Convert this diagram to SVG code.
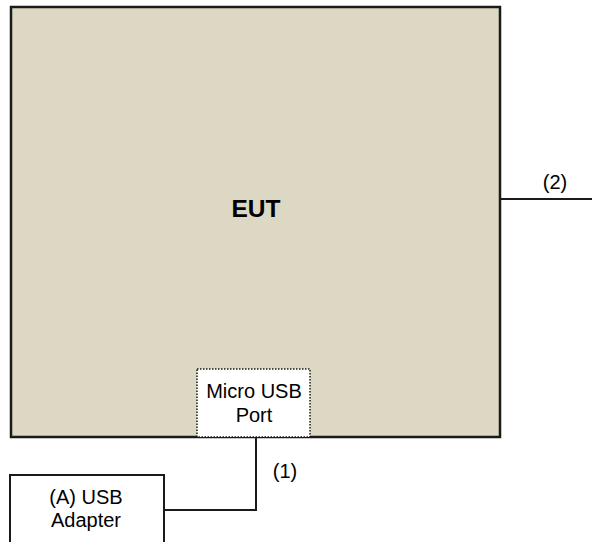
<svg xmlns="http://www.w3.org/2000/svg" width="592" height="542" viewBox="0 0 592 542">
<style>
text{font-family:"Liberation Sans",Arial,sans-serif;fill:#000}
.lbl{font-size:20px}
.ln{stroke:#1a1a1a;stroke-width:2;fill:none}
</style>
<rect width="592" height="542" fill="#fff"/>
<g id="eut">
<rect x="11" y="7" width="489" height="430" fill="#ddd8c3" stroke="#1a1a1a" stroke-width="2.5"/>
<text x="256" y="216.5" text-anchor="middle" font-size="24.5" font-weight="bold">EUT</text>
</g>
<g id="port">
<rect x="197" y="369" width="113" height="68" fill="#fff" stroke="#1a1a1a" stroke-width="1.5" stroke-dasharray="1.5,1.5"/>
<text class="lbl" x="254" y="398" text-anchor="middle">Micro USB</text>
<text class="lbl" x="254" y="421.5" text-anchor="middle">Port</text>
</g>
<g id="adapter">
<rect x="10" y="475" width="154" height="80" fill="#fff" stroke="#1a1a1a" stroke-width="2"/>
<text class="lbl" x="86" y="504" text-anchor="middle">(A) USB</text>
<text class="lbl" x="86" y="527" text-anchor="middle">Adapter</text>
</g>
<g id="connectors">
<polyline class="ln" points="256,438 256,510 164,510"/>
<line class="ln" x1="501" y1="199" x2="592" y2="199"/>
<text class="lbl" x="285" y="478" text-anchor="middle">(1)</text>
<text class="lbl" x="555" y="189" text-anchor="middle">(2)</text>
</g>
</svg>
